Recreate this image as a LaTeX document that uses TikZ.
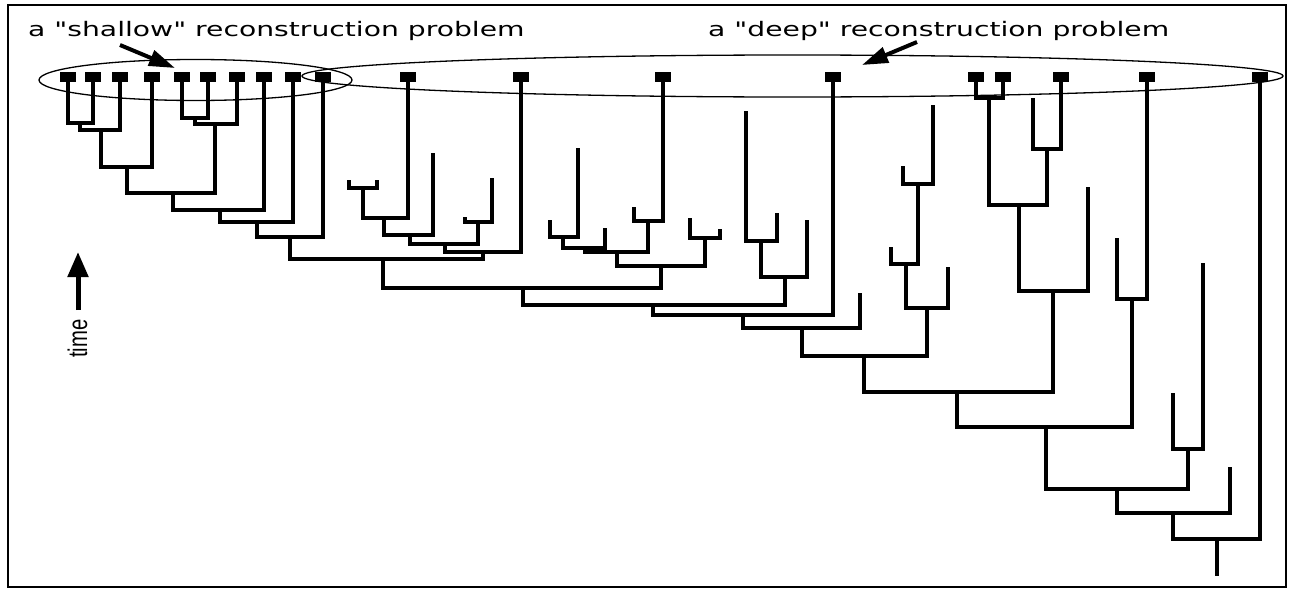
\documentclass[tikz,border=0pt]{standalone}
\usepackage{fontspec}
\usetikzlibrary{arrows.meta}
\newfontfamily\probfont[FakeStretch=1.41]{DejaVu Sans}
\newfontfamily\timefont[FakeStretch=0.75]{Liberation Sans}

\tikzset{
  leaf/.style={fill, minimum width=16pt, minimum height=10pt, inner sep=0pt},
  branch/.style={line width=3.8pt},
  region/.style={line width=1.3pt},
  pointer/.style={line width=4pt, -{Triangle[length=26pt, width=16pt]}},
  probtext/.style={anchor=base west, inner sep=0pt, font=\probfont\fontsize{20}{24}\selectfont}
}

\begin{document}
\begin{tikzpicture}[x=1pt, y=-1pt]
    \useasboundingbox (0,0) rectangle (1290,589);
    \draw[line width=2pt] (8,5) rectangle (1286,587);

    % sampled species at the present
    \foreach \x [count=\i] in {68,93,120,152,182,208,237,264,293,323,
                              408,521,663,833,976,1003,1061,1147,1260}
        \node[leaf] (L\i) at (\x,77) {};

    % extinct lineages
    \coordinate (ta1) at (349,180);  \coordinate (ta2) at (377,180);
    \coordinate (ta3) at (433,153);  \coordinate (ta4) at (465,217);
    \coordinate (ta5) at (492,178);
    \coordinate (tb1) at (550,220);  \coordinate (tb2) at (578,148);
    \coordinate (tb3) at (605,228);  \coordinate (tb4) at (634,207);
    \coordinate (tb5) at (690,218);  \coordinate (tb6) at (720,229);
    \coordinate (tc1) at (746,111);  \coordinate (tc2) at (777,213);
    \coordinate (tc3) at (807,220);  \coordinate (tc4) at (860,293);
    \coordinate (td1) at (903,166);  \coordinate (td2) at (933,105);
    \coordinate (td3) at (891,247);  \coordinate (td4) at (948,267);
    \coordinate (te1) at (1033,98);  \coordinate (te2) at (1088,187);
    \coordinate (tf1) at (1117,238);
    \coordinate (tg1) at (1173,393); \coordinate (tg2) at (1203,263);
    \coordinate (th1) at (1230,467);

    % ancestors
    \coordinate (s1) at (80,123);   \coordinate (s2) at (101,130);
    \coordinate (s3) at (127,167);  \coordinate (s4) at (195,118);
    \coordinate (s5) at (215,124);  \coordinate (s6) at (173,193);
    \coordinate (s7) at (220,210);  \coordinate (s8) at (257,222);
    \coordinate (s9) at (290,237);
    \coordinate (a1) at (363,188);  \coordinate (a2) at (384,218);
    \coordinate (a3) at (410,235);  \coordinate (a4) at (478,222);
    \coordinate (a5) at (445,244);  \coordinate (a6) at (483,252);
    \coordinate (b1) at (563,237);  \coordinate (b2) at (585,248);
    \coordinate (b3) at (648,221);  \coordinate (b4) at (617,252);
    \coordinate (b5) at (705,238);  \coordinate (b6) at (661,266);
    \coordinate (c1) at (761,241);  \coordinate (c2) at (785,277);
    \coordinate (d1) at (918,184);  \coordinate (d2) at (906,264);
    \coordinate (d3) at (927,308);
    \coordinate (e1) at (989,98);   \coordinate (e2) at (1047,149);
    \coordinate (e3) at (1019,205); \coordinate (e4) at (1053,291);
    \coordinate (f1) at (1132,299); \coordinate (g1) at (1188,449);
    \coordinate (r1) at (383,259);  \coordinate (r2) at (523,288);
    \coordinate (r3) at (653,305);  \coordinate (r4) at (743,315);
    \coordinate (r5) at (802,328);  \coordinate (r6) at (864,356);
    \coordinate (r7) at (957,392);  \coordinate (r8) at (1046,427);
    \coordinate (r9) at (1117,489); \coordinate (r10) at (1173,513);
    \coordinate (r11) at (1217,539); \coordinate (root) at (1217,576);

    % the tree
    \begin{scope}[branch]
        \draw (L1) |- (s1) -| (L2);
        \draw (s1) |- (s2) -| (L3);
        \draw (s2) |- (s3) -| (L4);
        \draw (L5) |- (s4) -| (L6);
        \draw (s4) |- (s5) -| (L7);
        \draw (s3) |- (s6) -| (s5);
        \draw (s6) |- (s7) -| (L8);
        \draw (s7) |- (s8) -| (L9);
        \draw (s8) |- (s9) -| (L10);
        \draw (ta1) |- (a1) -| (ta2);
        \draw (a1) |- (a2) -| (L11);
        \draw (a2) |- (a3) -| (ta3);
        \draw (ta4) |- (a4) -| (ta5);
        \draw (a3) |- (a5) -| (a4);
        \draw (a5) |- (a6) -| (L12);
        \draw (s9) |- (r1) -| (a6);
        \draw (tb1) |- (b1) -| (tb2);
        \draw (b1) |- (b2) -| (tb3);
        \draw (tb4) |- (b3) -| (L13);
        \draw (b2) |- (b4) -| (b3);
        \draw (tb5) |- (b5) -| (tb6);
        \draw (b4) |- (b6) -| (b5);
        \draw (r1) |- (r2) -| (b6);
        \draw (tc1) |- (c1) -| (tc2);
        \draw (c1) |- (c2) -| (tc3);
        \draw (r2) |- (r3) -| (c2);
        \draw (r3) |- (r4) -| (L14);
        \draw (r4) |- (r5) -| (tc4);
        \draw (td1) |- (d1) -| (td2);
        \draw (td3) |- (d2) -| (d1);
        \draw (d2) |- (d3) -| (td4);
        \draw (r5) |- (r6) -| (d3);
        \draw (L15) |- (e1) -| (L16);
        \draw (te1) |- (e2) -| (L17);
        \draw (e1) |- (e3) -| (e2);
        \draw (e3) |- (e4) -| (te2);
        \draw (r6) |- (r7) -| (e4);
        \draw (tf1) |- (f1) -| (L18);
        \draw (r7) |- (r8) -| (f1);
        \draw (tg1) |- (g1) -| (tg2);
        \draw (r8) |- (r9) -| (g1);
        \draw (r9) |- (r10) -| (th1);
        \draw (r10) |- (r11) -| (L19);
        \draw (r11) -- (root);
    \end{scope}

    % the two problems
    \draw[region] (195.5,80) ellipse [x radius=156.5, y radius=20.5];
    \draw[region] (792.5,76) ellipse [x radius=490.5, y radius=21];

    \node[probtext] (shallow) at (28,36) {a "shallow" reconstruction problem};
    \node[probtext] (deep) at (708,36) {a "deep" reconstruction problem};
    \coordinate (shtail) at (120,45);  \coordinate (shtip) at (175,68);
    \coordinate (dptail) at (917,42);  \coordinate (dptip) at (862,65);
    \draw[pointer] (shtail) -- (shtip);
    \draw[pointer] (dptail) -- (dptip);

    % time axis
    \coordinate (tbase) at (78,310);  \coordinate (ttop) at (78,252);
    \draw[line width=5pt, -{Triangle[length=25pt, width=20pt]}] (tbase) -- (ttop);
    \node[rotate=90, anchor=base west, inner sep=0pt,
          font=\timefont\fontsize{27}{30}\selectfont] (time) at (87,358) {time};
\end{tikzpicture}
\end{document}
